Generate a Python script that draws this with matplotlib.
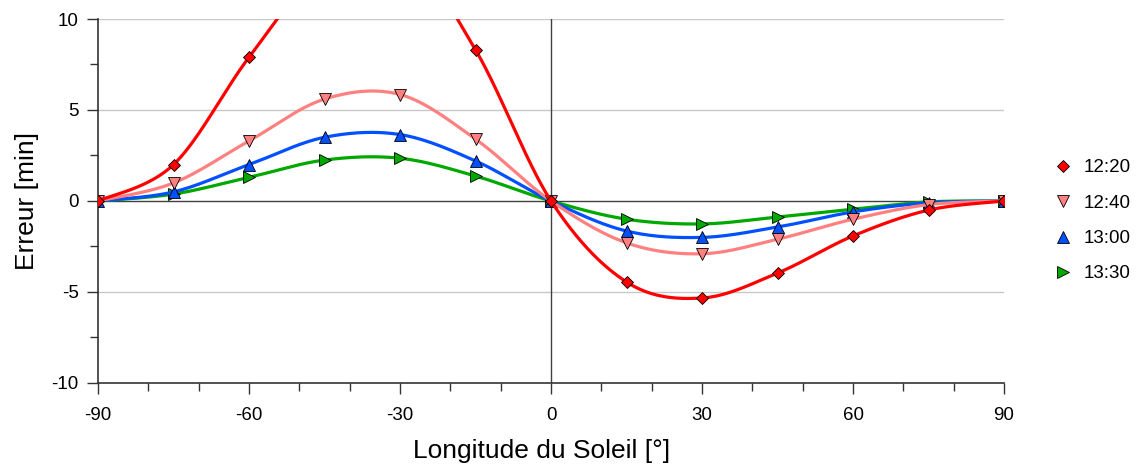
import numpy as np
import matplotlib
matplotlib.use("Agg")
import matplotlib.pyplot as plt
from matplotlib.ticker import MultipleLocator

plt.rcParams['font.family'] = ['Liberation Sans', 'DejaVu Sans']
plt.rcParams['axes.unicode_minus'] = False

longitude = [-90, -75, -60, -45, -30, -15, 0, 15, 30, 45, 60, 75, 90]
err_1220 = [0, 2.0, 7.9, 12.9, 14.0, 8.3, 0, -4.45, -5.33, -3.96, -1.92, -0.5, 0]
err_1240 = [0, 0.99, 3.3, 5.6, 5.85, 3.4, 0, -2.3, -2.9, -2.1, -1.0, -0.2, 0]
err_1300 = [0, 0.5, 2.0, 3.5, 3.65, 2.2, 0, -1.65, -2.0, -1.43, -0.6, -0.1, 0]
err_1330 = [0, 0.38, 1.3, 2.25, 2.35, 1.37, 0, -1.0, -1.26, -0.88, -0.45, -0.05, 0]
series_labels = ['12:20', '12:40', '13:00', '13:30']


def smooth(xs, ys, n=40):
    """Cubic Bezier smoothing through every point (Catmull-Rom tangents)."""
    x = np.asarray(xs, float)
    y = np.asarray(ys, float)
    px = np.concatenate([[x[0]], x, [x[-1]]])
    py = np.concatenate([[y[0]], y, [y[-1]]])
    outx, outy = [], []
    t = np.linspace(0, 1, n)
    for i in range(len(x) - 1):
        p0 = np.array([px[i + 1], py[i + 1]])
        p3 = np.array([px[i + 2], py[i + 2]])
        c1 = p0 + (np.array([px[i + 2], py[i + 2]]) - np.array([px[i], py[i]])) / 6
        c2 = p3 - (np.array([px[i + 3], py[i + 3]]) - np.array([px[i + 1], py[i + 1]])) / 6
        b = ((1 - t) ** 3)[:, None] * p0 + (3 * (1 - t) ** 2 * t)[:, None] * c1 \
            + (3 * (1 - t) * t ** 2)[:, None] * c2 + (t ** 3)[:, None] * p3
        outx.extend(b[:, 0])
        outy.extend(b[:, 1])
    return np.array(outx), np.array(outy)


fig = plt.figure(figsize=(11.48, 4.75), dpi=100)
ax = fig.add_axes([0.0854, 0.1937, 0.7892, 0.7663])

styles = [
    (err_1220, '#FF0000', 'D', 6.5),
    (err_1240, '#FF8080', 'v', 8.5),
    (err_1300, '#0050FF', '^', 8.5),
    (err_1330, '#00A800', '>', 8.5),
]

handles = [None] * 4
for k in reversed(range(4)):
    vals, col, mk, ms = styles[k]
    sx, sy = smooth(longitude, vals)
    ax.plot(sx, sy, color=col, lw=2.3, zorder=3 + (4 - k), solid_capstyle='round')
    h, = ax.plot(longitude, vals, linestyle='none', marker=mk, markersize=ms,
                 markerfacecolor=col, markeredgecolor='black', markeredgewidth=0.6,
                 zorder=3 + (4 - k), label=series_labels[k])
    handles[k] = h

ax.set_xlim(-90, 90)
ax.set_ylim(-10, 10)

ax.axhline(0, color='#404040', lw=1.0, zorder=2)
ax.axvline(0, color='#404040', lw=1.0, zorder=2)
for yv in (10, 5, -5):
    ax.axhline(yv, color='#C8C8C8', lw=1.0, zorder=1)

for s in ('top', 'right'):
    ax.spines[s].set_visible(False)
for s in ('left', 'bottom'):
    ax.spines[s].set_color('#333333')
    ax.spines[s].set_linewidth(1.2)
    ax.spines[s].set_zorder(2)

ax.xaxis.set_major_locator(MultipleLocator(30))
ax.xaxis.set_minor_locator(MultipleLocator(10))
ax.yaxis.set_major_locator(MultipleLocator(5))
ax.yaxis.set_minor_locator(MultipleLocator(2.5))
ax.tick_params(which='major', direction='out', length=8, width=1.0, color='#333333',
               labelsize=13.5)
ax.tick_params(which='minor', direction='out', length=5.5, width=1.0, color='#333333')
ax.tick_params(axis='x', which='major', pad=9)
ax.tick_params(axis='y', which='major', pad=6)

ax.set_xlabel('Longitude du Soleil [°]', fontsize=19, labelpad=11)
ax.xaxis.label.set_x(0.49)
ax.set_ylabel('Erreur [min]', fontsize=19, labelpad=9)

fig.legend(handles=handles, labels=series_labels, loc='center left',
           bbox_to_anchor=(0.903, 0.535), frameon=False, fontsize=13.5,
           handlelength=1.0, handletextpad=0.6, labelspacing=0.97)

fig.savefig('out.png', dpi=100)
